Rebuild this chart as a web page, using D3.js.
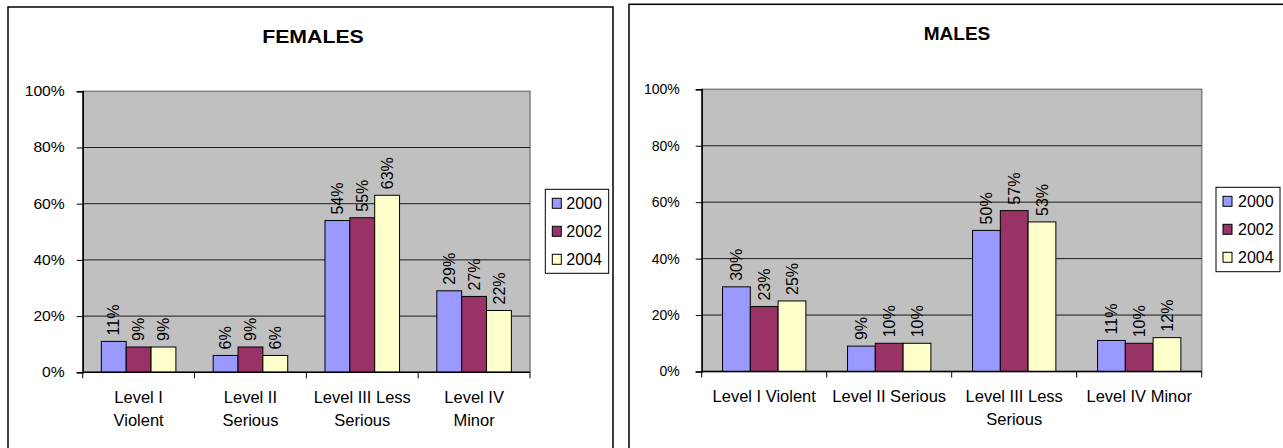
<!DOCTYPE html>
<html>
<head>
<meta charset="utf-8">
<script src="https://cdn.jsdelivr.net/npm/d3@7"></script>
<style>
  html, body { margin: 0; padding: 0; background: #fff; }
  svg { display: block; font-family: "Liberation Sans", Arial, sans-serif; }
</style>
</head>
<body>
<svg id="chart" width="1283" height="448"></svg>
<script>
// Offence level categories and survey years
const categories = ["Level I Violent", "Level II Serious", "Level III Less Serious", "Level IV Minor"];
const years = ["2000", "2002", "2004"];

// Share of each offence level (percent)
const females2000 = [11, 6, 54, 29];
const females2002 = [9, 9, 55, 27];
const females2004 = [9, 6, 63, 22];

const males2000 = [30, 9, 50, 11];
const males2002 = [23, 10, 57, 10];
const males2004 = [25, 10, 53, 12];

const yTicks = [0, 20, 40, 60, 80, 100];
const yearColors = ["#9999FF", "#993366", "#FFFFCC"];

const svg = d3.select("#chart");

function drawPanel(p) {
  const g = svg.append("g");
  const series = years.map((yr, i) => ({ year: yr, values: p.values[i], color: yearColors[i] }));

  // outer chart frame
  g.append("rect")
    .attr("x", p.frame[0]).attr("y", p.frame[1])
    .attr("width", p.frame[2]).attr("height", p.frame[3])
    .attr("fill", "#fff").attr("stroke", "#000").attr("stroke-width", 1.5);

  // title
  g.append("text")
    .attr("transform", `translate(${p.titleX},${p.titleY}) scale(${p.sx},1)`)
    .attr("text-anchor", "middle")
    .attr("font-size", 19).attr("font-weight", "bold")
    .text(p.title);

  const x0 = d3.scaleBand().domain(categories).range([p.left, p.right]).paddingInner(0).paddingOuter(0);
  const x1 = d3.scaleBand().domain(years).range([0, x0.bandwidth()]).paddingInner(0).paddingOuter(0.75);
  const y = d3.scaleLinear().domain([0, 100]).range([p.bottom, p.top]);

  // plot background
  g.append("rect")
    .attr("x", p.left).attr("y", p.top)
    .attr("width", p.right - p.left).attr("height", p.bottom - p.top)
    .attr("fill", "#C0C0C0").attr("stroke", "#808080").attr("stroke-width", 1.5);

  // gridlines
  g.append("g").selectAll("line")
    .data(yTicks.filter(t => t > 0 && t < 100))
    .join("line")
    .attr("x1", p.left).attr("x2", p.right)
    .attr("y1", d => y(d)).attr("y2", d => y(d))
    .attr("stroke", "#1a1a1a").attr("stroke-width", 1);

  // bars
  const groups = g.append("g").selectAll("g")
    .data(series).join("g");
  groups.selectAll("rect")
    .data(s => s.values.map((v, i) => ({ v, cat: categories[i], year: s.year, color: s.color })))
    .join("rect")
    .attr("x", d => x0(d.cat) + x1(d.year))
    .attr("y", d => y(d.v))
    .attr("width", x1.bandwidth())
    .attr("height", d => p.bottom - y(d.v))
    .attr("fill", d => d.color)
    .attr("stroke", "#000").attr("stroke-width", 1);

  // value labels, rotated
  groups.selectAll("text")
    .data(s => s.values.map((v, i) => ({ v, cat: categories[i], year: s.year })))
    .join("text")
    .attr("transform", d => `translate(${x0(d.cat) + x1(d.year) + x1.bandwidth() / 2},${y(d.v) - 6}) rotate(-90)`)
    .attr("dy", "0.35em")
    .attr("font-size", 16)
    .attr("fill", "#000")
    .text(d => d.v + "%");

  // y axis
  const yAxis = g.append("g")
    .attr("transform", `translate(${p.left},0)`)
    .call(d3.axisLeft(y).tickValues(yTicks).tickFormat(d => d + "%").tickSize(6).tickPadding(p.tickPad));
  yAxis.select(".domain").attr("stroke", "#000").attr("stroke-width", 1.5);
  yAxis.selectAll(".tick line").attr("stroke", "#000");
  yAxis.selectAll(".tick text")
    .attr("font-size", 14).attr("font-family", null).attr("fill", "#000")
    .attr("transform", `scale(${p.sx},1)`);

  // x axis baseline with ticks at category boundaries
  g.append("line")
    .attr("x1", p.left).attr("x2", p.right)
    .attr("y1", p.bottom).attr("y2", p.bottom)
    .attr("stroke", "#000").attr("stroke-width", 1.5);
  const bounds = categories.map(c => x0(c)).concat([x0(categories[categories.length - 1]) + x0.bandwidth()]);
  g.append("g").selectAll("line")
    .data(bounds).join("line")
    .attr("x1", d => d).attr("x2", d => d)
    .attr("y1", p.bottom).attr("y2", p.bottom + 6)
    .attr("stroke", "#000");

  // category labels, wrapped to the available width
  const labels = g.append("g").selectAll("g")
    .data(categories).join("g")
    .attr("transform", c => `translate(${x0(c) + x0.bandwidth() / 2},${p.labelY})`);
  labels.each(function (c) {
    const words = c.split(" ");
    const lines = [];
    let line = [];
    const probe = d3.select(this).append("text").attr("font-size", 16.5);
    for (const w of words) {
      const trial = line.concat([w]).join(" ");
      probe.text(trial);
      if (probe.node().getComputedTextLength() > p.wrapWidth && line.length) {
        lines.push(line.join(" "));
        line = [w];
      } else {
        line.push(w);
      }
    }
    lines.push(line.join(" "));
    probe.remove();
    d3.select(this).selectAll("text")
      .data(lines).join("text")
      .attr("text-anchor", "middle")
      .attr("font-size", 16.5)
      .attr("y", (d, i) => i * 23)
      .text(d => d);
  });

  // legend
  const lg = g.append("g");
  lg.append("rect")
    .attr("x", p.legend[0]).attr("y", p.legend[1])
    .attr("width", p.legend[2]).attr("height", p.legend[3])
    .attr("fill", "#fff").attr("stroke", "#000").attr("stroke-width", 1);
  const items = lg.selectAll("g.item").data(series).join("g").attr("class", "item")
    .attr("transform", (d, i) => `translate(${p.legend[0] + 7},${p.legend[1] + 14 + i * 28})`);
  items.append("rect")
    .attr("x", 0).attr("y", -5).attr("width", 9).attr("height", 10)
    .attr("fill", d => d.color).attr("stroke", "#000").attr("stroke-width", 1);
  items.append("text")
    .attr("x", p.legendTextX).attr("dy", "0.36em")
    .attr("font-size", 16)
    .text(d => d.year);
}

drawPanel({
  title: "FEMALES",
  values: [females2000, females2002, females2004],
  frame: [8, 7, 605, 460],
  titleX: 313, titleY: 43,
  left: 82.7, right: 530, top: 91.3, bottom: 372.3,
  labelY: 403, tickPad: 10, sx: 1.12, wrapWidth: 100,
  legend: [545.3, 189.3, 63.4, 84],
  legendTextX: 14
});

drawPanel({
  title: "MALES",
  values: [males2000, males2002, males2004],
  frame: [629, 4.3, 680, 460],
  titleX: 957, titleY: 40,
  left: 701.7, right: 1201.7, top: 89.3, bottom: 371.5,
  labelY: 402, tickPad: 16, sx: 1, wrapWidth: 120,
  legend: [1216, 187.3, 64, 84.4],
  legendTextX: 15
});
</script>
</body>
</html>
